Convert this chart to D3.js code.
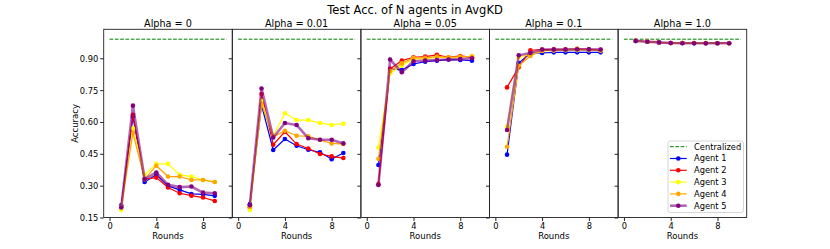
<!DOCTYPE html>
<html><head><meta charset="utf-8">
<script src="https://cdn.jsdelivr.net/npm/d3@7"></script>
<style>body{margin:0;background:#fff}svg{display:block}text{font-family:"DejaVu Sans",sans-serif}</style>
</head><body><svg id="c" width="830" height="249"></svg>
<script>
const rounds = [1,2,3,4,5,6,7,8,9];
const alphaLabels = ["Alpha = 0","Alpha = 0.01","Alpha = 0.05","Alpha = 0.1","Alpha = 1.0"];
const agentNames = ["Agent 1","Agent 2","Agent 3","Agent 4","Agent 5"];
const agentColors = ["#0000ff","#ff0000","#ffff00","#ffa500","#800080"];
const centralized = 0.99;
const xTicks = [0,4,8];
const yTicks = [0.15,0.30,0.45,0.60,0.75,0.90];

// accuracy per agent (rows: Agent 1..5), per alpha
const accAlpha0 = [
  [0.208,0.625,0.317,0.351,0.299,0.280,0.261,0.259,0.252],
  [0.200,0.634,0.331,0.338,0.291,0.264,0.253,0.244,0.228],
  [0.185,0.570,0.351,0.403,0.403,0.351,0.343,0.327,0.317],
  [0.200,0.549,0.330,0.394,0.343,0.343,0.327,0.327,0.317],
  [0.197,0.677,0.331,0.362,0.304,0.293,0.296,0.267,0.264]
];
const accAlpha001 = [
  [0.213,0.680,0.468,0.520,0.488,0.469,0.457,0.425,0.454],
  [0.197,0.732,0.493,0.554,0.496,0.475,0.449,0.438,0.430],
  [0.185,0.700,0.535,0.641,0.609,0.609,0.595,0.586,0.592],
  [0.200,0.685,0.530,0.559,0.535,0.532,0.516,0.499,0.496],
  [0.208,0.758,0.527,0.595,0.586,0.523,0.516,0.516,0.499]
];
const accAlpha005 = [
  [0.397,0.850,0.845,0.873,0.884,0.889,0.894,0.892,0.889],
  [0.307,0.850,0.889,0.905,0.908,0.916,0.905,0.911,0.905],
  [0.480,0.830,0.865,0.897,0.897,0.905,0.902,0.905,0.911],
  [0.427,0.840,0.876,0.902,0.902,0.908,0.905,0.908,0.908],
  [0.303,0.894,0.834,0.886,0.889,0.892,0.894,0.897,0.900]
];
const accAlpha01 = [
  [0.446,0.878,0.924,0.925,0.928,0.928,0.928,0.928,0.928],
  [0.763,0.858,0.938,0.941,0.942,0.942,0.943,0.942,0.940],
  [0.578,0.905,0.920,0.935,0.937,0.938,0.938,0.938,0.937],
  [0.483,0.865,0.911,0.936,0.938,0.940,0.946,0.940,0.937],
  [0.562,0.914,0.925,0.941,0.941,0.941,0.942,0.942,0.941]
];
const accAlpha1 = [
  [0.982,0.978,0.975,0.972,0.972,0.971,0.971,0.971,0.971],
  [0.982,0.978,0.975,0.972,0.972,0.972,0.971,0.971,0.971],
  [0.982,0.978,0.975,0.972,0.972,0.972,0.972,0.971,0.971],
  [0.982,0.978,0.975,0.972,0.972,0.972,0.972,0.972,0.971],
  [0.982,0.978,0.975,0.972,0.971,0.971,0.971,0.971,0.971]
];
const allAcc = [accAlpha0, accAlpha001, accAlpha005, accAlpha01, accAlpha1];

const svg = d3.select("#c");
const plotLeft = 103.7, plotTop = 29.3, plotBottom = 217.5, panelW = 128.6;
const y = d3.scaleLinear().domain([0.15,1.0366]).range([plotBottom, plotTop]);
const lineW = [1.2,1.2,1.2,1.2,2.6];
const lineOp = [1,1,1,1,0.6];

svg.append("text").attr("x",415).attr("y",13.5).attr("text-anchor","middle")
  .attr("font-size",11.5).text("Test Acc. of N agents in AvgKD");

allAcc.forEach((acc,pi)=>{
  const x0 = plotLeft + pi*panelW;
  const x = d3.scaleLinear().domain([-0.5,10.5]).range([x0, x0+panelW]);
  const g = svg.append("g");
  g.append("line").attr("x1",x(0)).attr("x2",x(10)).attr("y1",y(centralized)).attr("y2",y(centralized))
    .attr("stroke","#008000").attr("stroke-width",1).attr("stroke-dasharray","3.7,1.6");
  const line = d3.line().x((d,i)=>x(rounds[i])).y(d=>y(d));
  acc.forEach((vals,ai)=>{
    g.append("path").attr("d",line(vals)).attr("fill","none").attr("stroke",agentColors[ai])
      .attr("stroke-width",lineW[ai]).attr("stroke-opacity",lineOp[ai]);
    g.selectAll(null).data(vals).enter().append("circle")
      .attr("cx",(d,i)=>x(rounds[i])).attr("cy",d=>y(d)).attr("r",2.3).attr("fill",agentColors[ai]);
  });
  g.append("rect").attr("x",x0).attr("y",plotTop).attr("width",panelW).attr("height",plotBottom-plotTop)
    .attr("fill","none").attr("stroke","#222").attr("stroke-width",0.9);
  const xa = g.append("g").attr("transform",`translate(0,${plotBottom})`)
    .call(d3.axisBottom(x).tickValues(xTicks).tickSize(3.5).tickPadding(2).tickFormat(d3.format("d")));
  xa.select(".domain").remove();
  xa.selectAll("text").attr("font-size",8.3).attr("fill","#000").attr("font-family","DejaVu Sans");
  xa.selectAll("line").attr("stroke","#222");
  const ya = g.append("g").attr("transform",`translate(${x0},0)`)
    .call(d3.axisLeft(y).tickValues(yTicks).tickSize(3.5).tickPadding(2).tickFormat(pi===0?d3.format(".2f"):()=>""));
  ya.select(".domain").remove();
  ya.selectAll("text").attr("font-size",8.3).attr("fill","#000").attr("font-family","DejaVu Sans").attr("dy","0.35em");
  ya.selectAll("line").attr("stroke","#222");
  g.append("text").attr("x",x0+panelW/2).attr("y",26.5).attr("text-anchor","middle")
    .attr("font-size",9.7).text(alphaLabels[pi]);
  g.append("text").attr("x",x0+panelW/2).attr("y",238.5).attr("text-anchor","middle")
    .attr("font-size",8.5).text("Rounds");
});

svg.append("text").attr("transform","translate(77.5,123.4) rotate(-90)").attr("text-anchor","middle")
  .attr("font-size",8.5).text("Accuracy");

const lg = svg.append("g");
lg.append("rect").attr("x",668).attr("y",141).attr("width",75.5).attr("height",71.5).attr("rx",2)
  .attr("fill","#fff").attr("fill-opacity",0.85).attr("stroke","#ccc").attr("stroke-width",0.8);
const legendItems = [{name:"Centralized",color:"#008000",dash:true}].concat(
  agentNames.map((n,i)=>({name:n,color:agentColors[i],idx:i})));
legendItems.forEach((it,i)=>{
  const yy = 146.7 + i*11.8;
  if(it.dash){
    lg.append("line").attr("x1",670).attr("x2",686.7).attr("y1",yy).attr("y2",yy)
      .attr("stroke",it.color).attr("stroke-width",1).attr("stroke-dasharray","3.7,1.6");
  } else {
    lg.append("line").attr("x1",670).attr("x2",686.7).attr("y1",yy).attr("y2",yy)
      .attr("stroke",it.color).attr("stroke-width",lineW[it.idx]).attr("stroke-opacity",lineOp[it.idx]);
    lg.append("circle").attr("cx",678.3).attr("cy",yy).attr("r",2.3).attr("fill",it.color);
  }
  lg.append("text").attr("x",694).attr("y",yy).attr("dy","0.35em").attr("font-size",8.3).text(it.name);
});
</script></body></html>
